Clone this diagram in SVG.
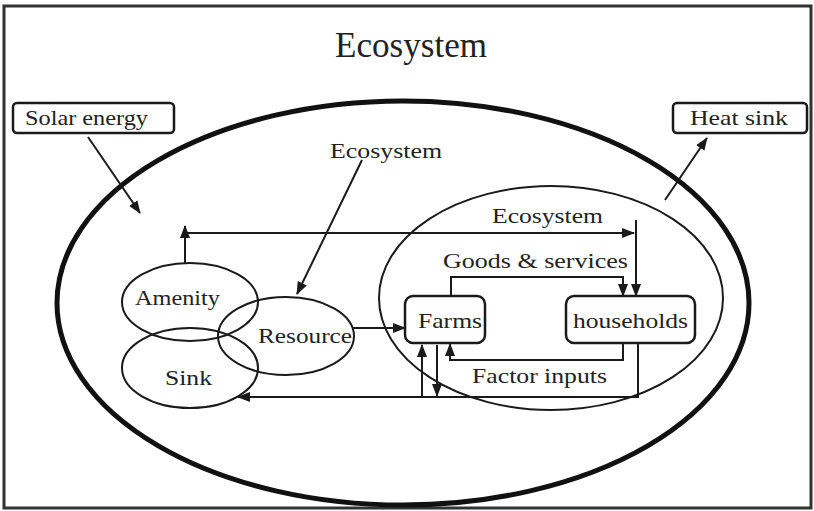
<svg xmlns="http://www.w3.org/2000/svg" width="814" height="511" viewBox="0 0 814 511">
<defs>
<style>
text{font-family:"Liberation Serif","Times New Roman",serif;fill:#222;}
.t{font-size:22px;}
.ln{fill:none;stroke:#1a1a1a;stroke-width:2;}
.ar{fill:none;stroke:#1a1a1a;stroke-width:2;marker-end:url(#ah);}
.el{fill:none;stroke:#1a1a1a;stroke-width:2;}
.box{fill:#fff;stroke:#1a1a1a;stroke-width:2.5;}
</style>
<marker id="ah" markerUnits="userSpaceOnUse" markerWidth="13" markerHeight="10" refX="12" refY="5" orient="auto">
<path d="M0,0 L13,5 L0,10 z" fill="#1a1a1a"/>
</marker>
</defs>
<rect x="0" y="0" width="814" height="511" fill="#fff"/>
<rect id="frame" x="4" y="6" width="807" height="502" fill="none" stroke="#333" stroke-width="3"/>
<g id="title"><text x="335" y="57" font-size="35" textLength="152" lengthAdjust="spacingAndGlyphs">Ecosystem</text></g>
<g id="ecosystem-outer"><ellipse cx="403" cy="303" rx="346" ry="202" fill="none" stroke="#111" stroke-width="5"/></g>
<g id="economy"><ellipse cx="551" cy="298" rx="172" ry="112" class="el"/></g>
<g id="solar"><rect x="13" y="103" width="161" height="30" rx="4" class="box"/><text class="t" x="25" y="125" textLength="123" lengthAdjust="spacingAndGlyphs">Solar energy</text></g>
<g id="heatsink"><rect x="673" y="103" width="134" height="30" rx="4" class="box"/><text class="t" x="690" y="125" textLength="98" lengthAdjust="spacingAndGlyphs">Heat sink</text></g>
<g id="eco-label"><text class="t" x="330" y="158" textLength="112" lengthAdjust="spacingAndGlyphs">Ecosystem</text></g>
<g id="amenity"><ellipse cx="190" cy="302" rx="68" ry="39" class="el"/><text class="t" x="135" y="305" textLength="85" lengthAdjust="spacingAndGlyphs">Amenity</text></g>
<g id="sink"><ellipse cx="190" cy="368" rx="68" ry="40" class="el"/><text class="t" x="165" y="385" textLength="47" lengthAdjust="spacingAndGlyphs">Sink</text></g>
<g id="resource"><ellipse cx="286" cy="336" rx="68" ry="39" class="el"/><text class="t" x="258" y="343" textLength="94" lengthAdjust="spacingAndGlyphs">Resource</text></g>
<g id="farms"><rect x="405" y="296" width="80" height="47" rx="8" class="box"/><text class="t" x="418" y="328" textLength="64" lengthAdjust="spacingAndGlyphs">Farms</text></g>
<g id="households"><rect x="566" y="296" width="129" height="47" rx="8" class="box"/><text class="t" x="573" y="328" textLength="115" lengthAdjust="spacingAndGlyphs">households</text></g>
<g id="labels">
<text class="t" x="492" y="223" textLength="111" lengthAdjust="spacingAndGlyphs">Ecosystem</text>
<text class="t" x="443" y="268" textLength="185" lengthAdjust="spacingAndGlyphs">Goods &amp; services</text>
<text class="t" x="472" y="383" textLength="135" lengthAdjust="spacingAndGlyphs">Factor inputs</text>
</g>
<g id="connectors">
<line class="ar" x1="88" y1="137" x2="140" y2="213"/>
<line class="ar" x1="665" y1="200" x2="707" y2="138"/>
<line class="ar" x1="362" y1="160" x2="297" y2="294"/>
<line class="ar" x1="185" y1="263" x2="185" y2="226"/>
<line class="ar" x1="185" y1="233" x2="634" y2="233"/>
<line class="ar" x1="636" y1="220" x2="636" y2="296"/>
<path class="ar" d="M451,296 V277 H623 V296"/>
<path class="ar" d="M623,343 V360 H450 V344"/>
<path class="ar" d="M638,343 V397 H238"/>
<line class="ar" x1="422" y1="397" x2="422" y2="345"/>
<line class="ar" x1="437" y1="345" x2="437" y2="396"/>
<line class="ar" x1="353" y1="328" x2="405" y2="328"/>
</g>
</svg>
